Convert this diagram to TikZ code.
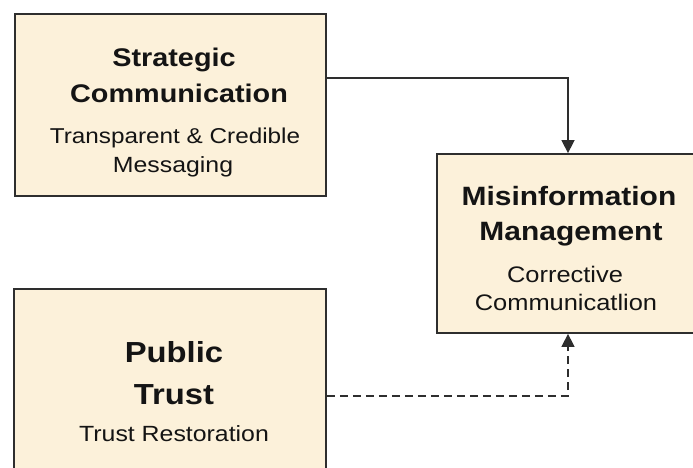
\documentclass[tikz,border=0pt]{standalone}
\usepackage{fontspec}
\setmainfont{Liberation Sans}
\newfontfamily\widesans[FakeStretch=1.13]{Liberation Sans}
\usetikzlibrary{arrows.meta}
\definecolor{boxfill}{HTML}{FCF1DA}
\definecolor{boxline}{HTML}{2E2E2E}
\definecolor{ink}{HTML}{141414}
\tikzset{
  panel/.style={draw=boxline, fill=boxfill, line width=1.8pt, rectangle, inner sep=0pt},
  title/.style={anchor=base, text=ink, font=\widesans\bfseries\fontsize{#1}{#1}\selectfont},
  title/.default=25.5,
  subtitle/.style={anchor=base, text=ink, font=\widesans\fontsize{#1}{#1}\selectfont},
  subtitle/.default=21.5,
  link/.style={draw=boxline, line width=1.5pt, -{Triangle[length=13pt,width=13pt]}},
  dashedlink/.style={link, dashed, dash pattern=on 8pt off 5pt}
}
\begin{document}
\begin{tikzpicture}[x=1pt, y=-1pt]
  \useasboundingbox (0,0) rectangle (693,468);
  \clip (0,0) rectangle (693,468);
  % boxes
  \node[panel, minimum width=311pt, minimum height=182pt] (strat) at (170.5,105) {};
  \node[panel, minimum width=266pt, minimum height=179pt] (misinfo) at (570,243.5) {};
  \node[panel, minimum width=312pt, minimum height=200pt] (trust) at (170,389) {};
  % Strategic Communication
  \node[title] (t1a) at (174,67) {Strategic};
  \node[title] (t1b) at (179,103) {Communication};
  \node[subtitle] (s1a) at (175,143) {Transparent \& Credible};
  \node[subtitle=22] (s1b) at (173,172) {Messaging};
  % Misinformation Management
  \node[title=26.5] (t2a) at (569,205) {Misinformation};
  \node[title=26.5] (t2b) at (571,240) {Management};
  \node[subtitle=22.5] (s2a) at (565,282) {Corrective};
  \node[subtitle=22.5] (s2b) at (566,310) {Communicatlion};
  % Public Trust
  \node[title=29] (t3a) at (174,362) {Public};
  \node[title=29] (t3b) at (174,404) {Trust};
  \node[subtitle=22] (s3a) at (174,441) {Trust Restoration};
  % connectors
  \coordinate (c1) at (strat.east |- 0,78);
  \coordinate (c2) at (trust.east |- 0,396);
  \draw[link] (c1) -| (568,0 |- misinfo.north);
  \draw[dashedlink] (c2) -| (568,0 |- misinfo.south);
\end{tikzpicture}
\end{document}
